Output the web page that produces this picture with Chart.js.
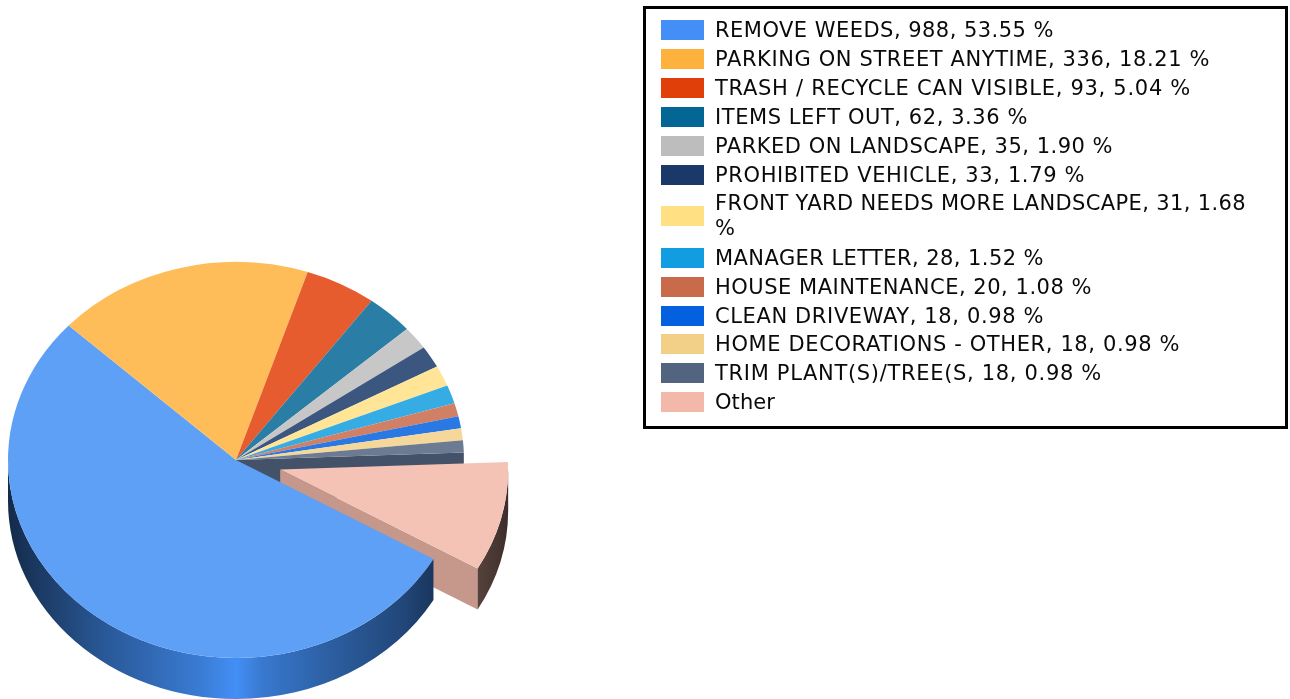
<!DOCTYPE html>
<html>
<head>
<meta charset="utf-8">
<script src="https://cdn.jsdelivr.net/npm/chart.js@4"></script>
<style>
html,body{margin:0;padding:0;background:#fff;overflow:hidden;width:1290px;height:699px}
#c{position:absolute;left:0;top:0}
#legend{position:absolute;left:643px;top:6px;width:639px;height:417px;border:3px solid #000;box-sizing:content-box;
 font-family:"DejaVu Sans",sans-serif;font-size:21px;color:#0a0a0a;padding:0}
.row{position:absolute;left:15px;right:0;display:flex;align-items:center}
.sw{width:43px;height:20px;flex:none;margin-right:11px}
.tx{width:545px;line-height:25px;white-space:normal}
</style>
</head>
<body>
<canvas id="c" width="1290" height="699"></canvas>
<div id="legend"></div>
<script>
const categories = ["REMOVE WEEDS","PARKING ON STREET ANYTIME","TRASH / RECYCLE CAN VISIBLE","ITEMS LEFT OUT","PARKED ON LANDSCAPE","PROHIBITED VEHICLE","FRONT YARD NEEDS MORE LANDSCAPE","MANAGER LETTER","HOUSE MAINTENANCE","CLEAN DRIVEWAY","HOME DECORATIONS - OTHER","TRIM PLANT(S)/TREE(S","Other"];
const values = [988,336,93,62,35,33,31,28,20,18,18,18,165];
const percents = ["53.55","18.21","5.04","3.36","1.90","1.79","1.68","1.52","1.08","0.98","0.98","0.98",null];
const colors = ["#438ff5","#ffb13d","#e13f09","#046695","#bdbdbd","#1a3968","#ffe082","#129de0","#c96a4b","#0360df","#f3d087","#52647f","#f2b8a9"];
// legend layout, kept apart from the data
const legendTextWidths = [339,495,476,313,398,370,531,329,377,329,465,387,60];
const legendRowCenters = [30,59,88,117,146,175,216,258,287,316,344,373,402];

const SQUASH = 198/228, DEPTH = 41, RADIUS = 228, ROTATION = 120, EXPLODE = 45.5;

function rgb(h){return [1,3,5].map(i=>parseInt(h.substr(i,2),16));}
function shade(h,f){const c=rgb(h).map(v=>Math.round(v*f));return `rgb(${c})`;}
function tint(h,a){const c=rgb(h).map(v=>Math.round(v*a+255*(1-a)));return `rgb(${c})`;}

function face(ctx,c,angle,R,fill){
  const ex=c.x+Math.cos(angle)*R, ey=c.y+Math.sin(angle)*R*SQUASH;
  ctx.beginPath();ctx.moveTo(c.x,c.y);ctx.lineTo(ex,ey);ctx.lineTo(ex,ey+DEPTH);ctx.lineTo(c.x,c.y+DEPTH);ctx.closePath();
  ctx.fillStyle=fill;ctx.fill();
}
function wall(ctx,c,el,fill){
  const R=el.outerRadius;
  for(const base of [0,2*Math.PI]){
    const a0=Math.max(el.startAngle,base), a1=Math.min(el.endAngle,base+Math.PI);
    if(a1<=a0) continue;
    ctx.beginPath();
    ctx.ellipse(c.x,c.y,R,R*SQUASH,0,a0,a1);
    ctx.ellipse(c.x,c.y+DEPTH,R,R*SQUASH,0,a1,a0,true);
    ctx.closePath();ctx.fillStyle=fill;ctx.fill();
  }
}
const pie3d = {
  id:'pie3d',
  afterDatasetsUpdate(chart){
    // pull the last slice out of the pie along its own bisector
    const arcs=chart.getDatasetMeta(0).data, o=arcs[arcs.length-1];
    const half=(o.startAngle+o.endAngle)/2;
    o.x+=Math.cos(half)*EXPLODE; o.y+=Math.sin(half)*EXPLODE;
  },
  beforeDatasetsDraw(chart){
    const ctx=chart.ctx, arcs=chart.getDatasetMeta(0).data, n=arcs.length;
    const main=arcs[0], other=arcs[n-1], R=main.outerRadius;
    const mc={x:main.x,y:main.y};
    face(ctx,mc,other.startAngle,R,shade(colors[n-2],0.82));
    const oc={x:other.x,y:main.y+(other.y-main.y)*SQUASH};
    face(ctx,oc,other.endAngle,R,shade(colors[n-1],0.82));
    const xa=oc.x+Math.cos(other.endAngle)*R, xb=oc.x+R;
    const g2=ctx.createLinearGradient(xa,0,xb,0);
    g2.addColorStop(0,shade(colors[n-1],0.36));
    g2.addColorStop(1,shade(colors[n-1],0.25));
    wall(ctx,oc,other,g2);
    const g=ctx.createLinearGradient(mc.x-R,0,mc.x+R,0);
    [[0,.3],[.2,.6],[.42,.86],[.5,1],[.56,.84],[.72,.64],[.86,.5],[.935,.38],[1,.3]]
      .forEach(([p,f])=>g.addColorStop(p,shade(colors[0],f)));
    wall(ctx,mc,{startAngle:main.startAngle,endAngle:main.endAngle,outerRadius:R},g);
    ctx.save();
    ctx.translate(main.x,main.y);ctx.scale(1,SQUASH);ctx.translate(-main.x,-main.y);
  },
  afterDatasetsDraw(chart){chart.ctx.restore();}
};

new Chart(document.getElementById('c'),{
  type:'pie',
  data:{labels:categories,datasets:[{
    data:values,
    backgroundColor:colors.map(c=>tint(c,0.85)),
    borderWidth:0,
    clip:false
  }]},
  options:{
    responsive:false,animation:false,events:[],
    radius:RADIUS,rotation:ROTATION,
    layout:{padding:{left:0,top:221,right:818,bottom:0}},
    plugins:{legend:{display:false},tooltip:{enabled:false}}
  },
  plugins:[pie3d]
});

// legend
const lg=document.getElementById('legend');
const m=document.createElement('canvas').getContext('2d');
m.font='21px "DejaVu Sans"';
const INNER_TOP=9;
categories.forEach((name,i)=>{
  const text=percents[i]===null?name:`${name}, ${values[i]}, ${percents[i]} %`;
  const firstLine=text.startsWith("FRONT")?text.slice(0,-2):text;
  const r=document.createElement('div');r.className='row';
  const s=document.createElement('div');s.className='sw';s.style.background=colors[i];
  const t=document.createElement('div');t.className='tx';t.textContent=text;
  t.style.letterSpacing=((legendTextWidths[i]-m.measureText(firstLine).width)/firstLine.length)+'px';
  r.appendChild(s);r.appendChild(t);lg.appendChild(r);
  r.style.top=(legendRowCenters[i]-INNER_TOP-r.offsetHeight/2)+'px';
});
</script>
</body>
</html>
